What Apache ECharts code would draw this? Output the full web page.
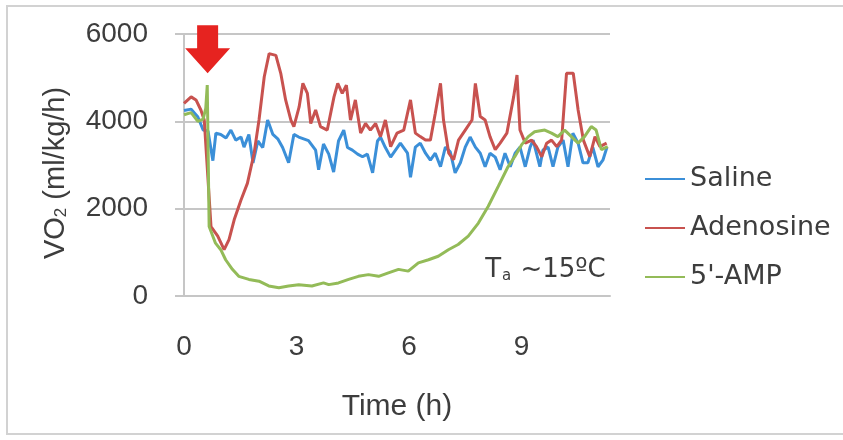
<!DOCTYPE html>
<html><head><meta charset="utf-8">
<script src="https://cdn.jsdelivr.net/npm/echarts@6/dist/echarts.min.js"></script>
<style>html,body{margin:0;padding:0;background:#fff}#c{width:843px;height:440px}</style>
</head><body><div id="c"></div>
<script>
// ---- data (time in hours, VO2 in ml/kg/h) ----
const salineTime = [0.00,0.19,0.37,0.51,0.64,0.77,0.85,0.98,1.12,1.25,1.38,1.52,1.60,1.73,1.84,1.97,2.10,2.23,2.37,2.50,2.63,2.79,2.93,3.06,3.19,3.32,3.51,3.59,3.72,3.86,3.99,4.12,4.26,4.36,4.49,4.63,4.76,4.89,5.03,5.16,5.24,5.37,5.51,5.64,5.77,5.96,6.04,6.17,6.30,6.44,6.57,6.70,6.84,6.97,7.10,7.23,7.37,7.50,7.63,7.77,7.90,8.03,8.16,8.30,8.43,8.56,8.70,8.83,8.96,9.10,9.23,9.31,9.49,9.57,9.71,9.84,9.97,10.11,10.24,10.37,10.51,10.64,10.77,10.90,11.04,11.17,11.28];
const salineVO2 = [4250,4280,4100,3800,3780,3100,3730,3700,3620,3800,3570,3640,3410,3700,3050,3550,3400,4030,3700,3600,3400,3050,3700,3640,3600,3560,3340,2890,3480,3250,2840,3550,3800,3400,3340,3250,3190,3250,2820,3550,3640,3400,3180,3340,3500,3270,2720,3410,3500,3270,3110,3270,2960,3410,3300,2820,3050,3410,3640,3410,3270,2960,3270,3180,2890,3270,2960,3270,3410,2960,3410,3570,2960,3340,3410,2960,3410,3570,2960,3730,3500,3050,3050,3410,2960,3110,3410];

const adenosineTime = [0.00,0.19,0.32,0.45,0.54,0.72,0.90,1.07,1.20,1.34,1.52,1.69,1.87,2.00,2.14,2.27,2.45,2.58,2.71,2.85,2.93,3.07,3.17,3.29,3.38,3.51,3.64,3.82,4.00,4.10,4.22,4.33,4.44,4.57,4.71,4.84,4.97,5.11,5.24,5.37,5.51,5.68,5.86,6.04,6.17,6.30,6.44,6.57,6.70,6.84,6.92,7.06,7.19,7.32,7.50,7.68,7.77,7.90,8.03,8.16,8.30,8.43,8.61,8.79,8.88,8.96,9.10,9.27,9.40,9.54,9.67,9.80,9.94,10.07,10.20,10.38,10.51,10.65,10.82,10.96,11.09,11.27];
const adenosineVO2 = [4410,4560,4490,4260,4030,1590,1370,1060,1290,1750,2200,2580,3270,4030,5020,5550,5510,5100,4490,4030,3880,4330,4870,4640,3950,4260,3880,3800,4560,4870,4640,4830,4030,4490,3730,3950,3800,3950,3650,4030,3420,3730,3800,4490,3730,3650,3570,3570,4180,4870,4030,3270,3120,3570,3800,4030,4870,4110,4030,3650,3350,3500,3730,4560,5060,3800,3500,3570,3420,3190,3500,3570,3420,3570,5100,5100,4260,3570,3190,3650,3420,3500];

const ampTime = [0.00,0.19,0.37,0.51,0.58,0.62,0.67,0.84,0.98,1.11,1.29,1.46,1.73,2.00,2.26,2.53,2.79,3.06,3.41,3.72,3.86,4.12,4.39,4.65,4.92,5.19,5.45,5.72,5.98,6.25,6.52,6.78,7.05,7.31,7.58,7.85,8.11,8.38,8.64,8.82,9.00,9.18,9.35,9.62,9.80,9.97,10.15,10.33,10.51,10.68,10.86,10.99,11.13,11.30];
const ampVO2 = [4150,4200,4000,4050,4300,4830,1590,1210,1060,830,610,450,380,340,230,190,230,260,230,300,260,300,380,450,490,450,530,610,570,760,830,910,1060,1180,1370,1670,2050,2510,2960,3190,3460,3650,3760,3800,3730,3650,3800,3650,3500,3650,3880,3800,3350,3420];

const seriesNames = ['Saline', 'Adenosine', "5'-AMP"];
const xTicks = [0, 3, 6, 9];
const yTicks = [0, 2000, 4000, 6000];
const injectionAt = [0.63, 5650];   // arrow marking injection (data coords)
const ambientAt = [8.03, 600];      // "Ta ~15ºC" label anchor (data coords)

// ---- chart ----
const pair = (t, v) => t.map((x, i) => [x, v[i]]);
const colors = ['#3b8fd8', '#c8524f', '#93bb58'];
const txt = '#3d3d3d';
const gridCol = '#c6c6c6';
const sans = 'Arial, "Liberation Sans", sans-serif';
const wide = '"DejaVu Sans", sans-serif';

const chart = echarts.init(document.getElementById('c'), null, {renderer: 'canvas'});
chart.setOption({
  animation: false,
  backgroundColor: '#fff',
  color: colors,
  grid: {left: 184, right: 233, top: 34, bottom: 144},
  xAxis: {
    type: 'value', min: 0, max: 11.36, interval: 3,
    axisLine: {show: true, lineStyle: {color: gridCol, width: 2}},
    axisTick: {show: false},
    splitLine: {show: false},
    axisLabel: {margin: 37, fontSize: 28, color: txt, fontFamily: sans,
      formatter: v => xTicks.includes(v) ? String(v) : ''},
    name: 'Time (h)', nameLocation: 'middle', nameGap: 96,
    nameTextStyle: {fontSize: 30, color: txt, fontFamily: sans}
  },
  yAxis: {
    type: 'value', min: yTicks[0], max: yTicks[yTicks.length - 1], interval: 2000,
    axisLine: {show: true, lineStyle: {color: gridCol, width: 2}},
    axisTick: {show: true, length: 9, lineStyle: {color: gridCol, width: 2}},
    splitLine: {show: true, lineStyle: {color: gridCol, width: 2}},
    axisLabel: {margin: 36, fontSize: 28, color: txt, fontFamily: sans,
      formatter: v => yTicks.includes(v) ? String(v) : ''},
    name: 'VO{sub|2} (ml/kg/h)', nameLocation: 'middle', nameGap: 114,
    nameTextStyle: {fontSize: 29, color: txt, fontFamily: sans, padding: [0, 16, 0, 0],
      rich: {sub: {fontSize: 17, color: txt, fontFamily: sans, verticalAlign: 'bottom', padding: [6, 0, 0, 0]}}}
  },
  legend: {
    orient: 'vertical', left: 640, top: 160, itemWidth: 40, itemHeight: 2, itemGap: 21,
    icon: 'rect',
    data: seriesNames,
    textStyle: {fontSize: 27, lineHeight: 28, color: txt, fontFamily: wide}
  },
  series: [
    {name: seriesNames[0], type: 'line', data: pair(salineTime, salineVO2), symbol: 'none', lineStyle: {width: 3}, z: 2},
    {name: seriesNames[1], type: 'line', data: pair(adenosineTime, adenosineVO2), symbol: 'none', lineStyle: {width: 3}, z: 3},
    {name: seriesNames[2], type: 'line', data: pair(ampTime, ampVO2), symbol: 'none', lineStyle: {width: 3}, z: 4}
  ]
});

const a = chart.convertToPixel({gridIndex: 0}, injectionAt);
const b = chart.convertToPixel({gridIndex: 0}, ambientAt);
chart.setOption({
  graphic: [
    {type: 'rect', silent: true, z: -1, shape: {x: 7, y: 6, width: 850, height: 428},
     style: {fill: 'none', stroke: '#d2d2d2', lineWidth: 2}},
    {type: 'polygon', silent: true, z: 10, x: a[0], y: a[1],
     shape: {points: [[-10.5, -24], [10.5, -24], [10.5, -1], [22.5, -1], [0, 24], [-22.5, -1], [-10.5, -1]]},
     style: {fill: '#e62320'}},
    {type: 'text', silent: true, z: 10, x: b[0], y: b[1],
     style: {text: '{m|T}{s|a}{m| ~15ºC}', align: 'left', verticalAlign: 'middle',
       rich: {m: {fontSize: 26, lineHeight: 28, fontFamily: wide, fill: txt},
              s: {fontSize: 15, fontFamily: wide, fill: txt, verticalAlign: 'bottom', padding: [10, 1, 0, 1]}}}}
  ]
});
</script>
</body></html>
